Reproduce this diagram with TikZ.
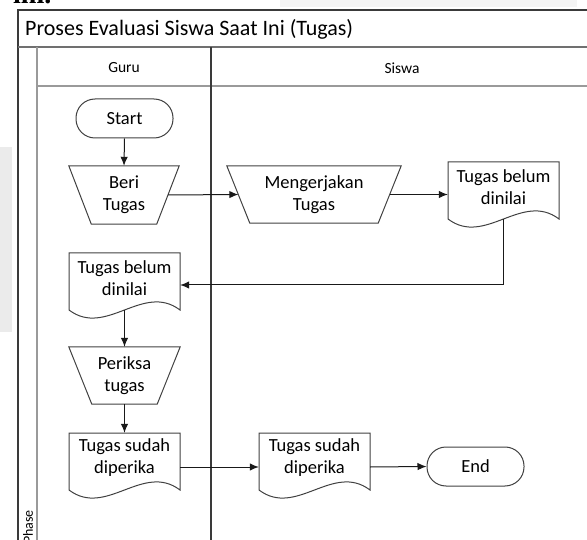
\documentclass[tikz,border=0pt]{standalone}
\usepackage{fontspec}
\setmainfont{Carlito}
\newfontfamily\serifbold{Liberation Serif}
\usetikzlibrary{arrows.meta,calc}
\definecolor{frameline}{HTML}{3A3A3A}
\definecolor{headline}{HTML}{707070}
\definecolor{subline}{HTML}{9A9A9A}
\definecolor{shapeline}{HTML}{404040}
\definecolor{wm}{HTML}{EBEBEB}
\definecolor{wmtop}{HTML}{F4F4F4}
\tikzset{
  shp/.style={draw=shapeline, line width=1pt},
  term/.style={shp, rectangle, rounded corners=19pt, minimum width=97pt, minimum height=39pt, inner sep=0pt, font=\fontsize{18.5}{22}\selectfont},
  tnode/.style={rectangle, draw=none, inner sep=0pt, align=center, font=\fontsize{18.5}{22}\selectfont},
  dnode/.style={rectangle, draw=none, inner sep=0pt, minimum width=111pt, minimum height=50pt, align=center, font=\fontsize{18.5}{22}\selectfont},
  conn/.style={draw=black!90, line width=1pt, -{Latex[length=9pt,width=7.5pt]}},
  lanelabel/.style={inner sep=0pt, font=\fontsize{15.5}{17}\selectfont},
}
\newcommand\trapnode[7]{%
  \node[tnode, minimum width=#4pt, minimum height=#6pt] (#1) at (#2,#3) {#7};
  \draw[shp, line join=miter] (#1.north west) -- (#1.north east) -- ([xshift=-#5pt]#1.south east) -- ([xshift=#5pt]#1.south west) -- cycle;}
\newcommand\docnode[4]{%
  \node[dnode] (#1) at (#2,#3+25) {#4};
  \draw[shp] (#2-55.5,#3) -- (#2+55.5,#3) -- (#2+55.5,#3+57) .. controls (#2+18.5,#3+29) and (#2-18.5,#3+85) .. (#2-55.5,#3+57) -- cycle;}
\begin{document}
\begin{tikzpicture}[x=1pt,y=-1pt]
\useasboundingbox (0,0) rectangle (587,540);
\clip (0,0) rectangle (587,540);
% faint background marks
\fill[wm] (0,147) rectangle (12,332);
\fill[wmtop] (280,0) rectangle (577,7);
\node[anchor=base west, inner sep=0pt, font=\serifbold\bfseries\fontsize{28}{30}\selectfont] (ini) at (13,4) {ini.};
% pool frame
\draw[frameline, line width=1.3pt] (18,560) -- (18,10) -- (600,10);
\draw[headline, line width=2pt] (18,47) -- (600,47);
\draw[subline, line width=1.6pt] (37,47) -- (37,560);
\draw[subline, line width=2pt] (37,86) -- (600,86);
\draw[frameline, line width=1.4pt] (211,47) -- (211,560);
\node[anchor=west, inner sep=0pt, font=\fontsize{22}{24}\selectfont] (title) at (25,29) {Proses Evaluasi Siswa Saat Ini (Tugas)};
\node[lanelabel] (guru) at (124,68) {Guru};
\node[lanelabel] (siswa) at (402,68) {Siswa};
\node[lanelabel, rotate=90, font=\fontsize{14}{16}\selectfont] (phase) at (28,527) {Phase};
% flow nodes
\node[term] (start) at (124.5,118.5) {Start};
\trapnode{beri}{124}{195}{110}{22.5}{58}{Beri\\Tugas}
\trapnode{kerja}{314}{194.5}{174}{23}{57}{Mengerjakan\\Tugas}
\docnode{sdocA}{503.5}{162}{Tugas belum\\dinilai}
\docnode{gdocA}{124.5}{253}{Tugas belum\\dinilai}
\trapnode{periksa}{124.5}{375.5}{111}{23}{57}{Periksa\\tugas}
\docnode{gdocB}{124.5}{433}{Tugas sudah\\diperika}
\docnode{sdocB}{314.5}{433}{Tugas sudah\\diperika}
\node[term] (endn) at (475.5,466.5) {End};
% connectors
\draw[conn] (start.south) -- (beri.north);
\draw[conn] ([xshift=-11pt]beri.east) -- ([xshift=11.5pt]kerja.west);
\draw[conn] ([xshift=-11.5pt]kerja.east) -- (sdocA.west |- kerja.east);
\draw[conn] ([yshift=-7pt]sdocA.south) |- ([yshift=-7pt]gdocA.east);
\draw[conn] ([yshift=-7pt]gdocA.south) -- (periksa.north);
\draw[conn] (periksa.south) -- (gdocB.north);
\draw[conn] ([yshift=-9pt]gdocB.east) -- ([yshift=-9pt]sdocB.west);
\draw[conn] ([yshift=-9pt]sdocB.east) -- (endn.west);
\end{tikzpicture}
\end{document}
